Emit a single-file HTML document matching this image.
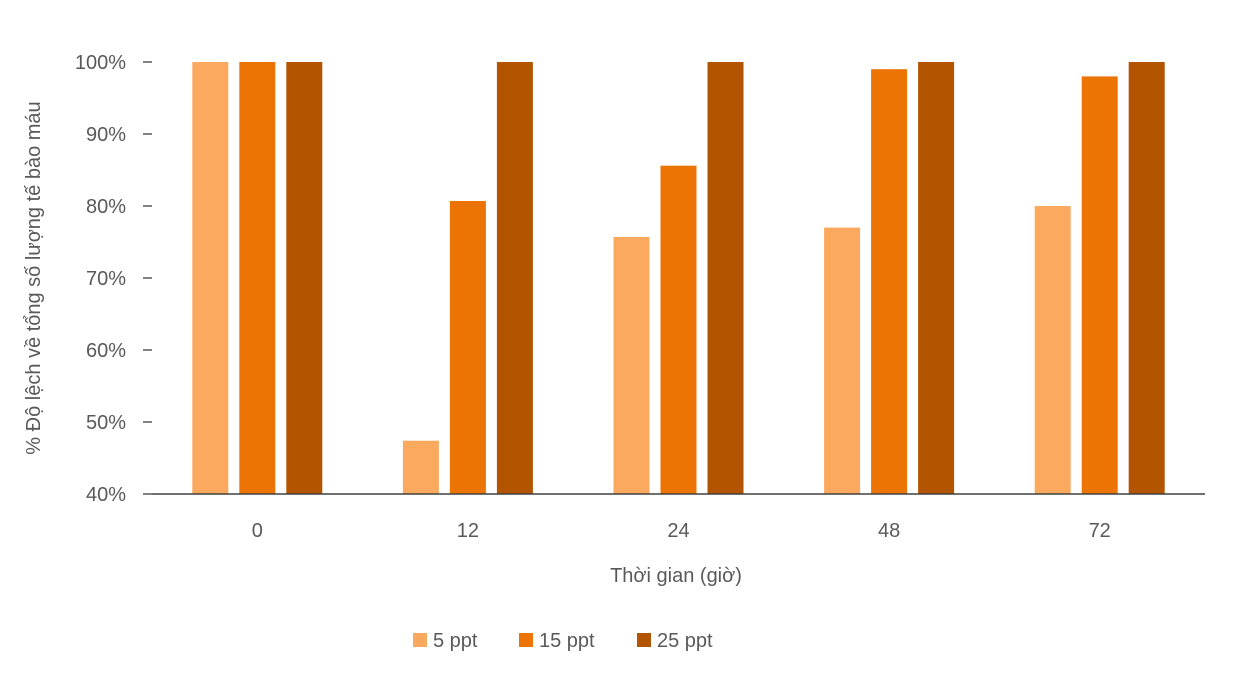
<!DOCTYPE html>
<html><head><meta charset="utf-8"><style>
body{margin:0;background:#fff;font-family:"Liberation Sans",sans-serif;}
</style></head><body>
<svg width="1233" height="672" xmlns="http://www.w3.org/2000/svg" id="chart">
</svg>
<script>
const categories=["0","12","24","48","72"];
const seriesNames=["5 ppt","15 ppt","25 ppt"];
const s5=[100,47.4,75.7,77,80];
const s15=[100,80.7,85.6,99,98];
const s25=[100,100,100,100,100];
const yTicks=[40,50,60,70,80,90,100];
const colors=["#FBA95F","#EC7404","#B35500"];
const svg=document.getElementById('chart');
const NS="http://www.w3.org/2000/svg";
const x0=152,x1=1205,yTop=62,yBot=494,yMin=40,yMax=100;
const y=v=>yBot-(v-yMin)/(yMax-yMin)*(yBot-yTop);
const band=(x1-x0)/categories.length;
const cx=i=>x0+band*(i+0.5);
function mk(tag,attrs,txt){const e=document.createElementNS(NS,tag);for(const k in attrs)e.setAttribute(k,attrs[k]);if(txt!=null)e.textContent=txt;svg.appendChild(e);return e;}
yTicks.forEach(t=>{
 const l=mk('line',{x1:143,x2:152,y1:y(t),y2:y(t),stroke:'#595959','stroke-width':1.5});
 
 
 const tx=mk('text',{x:126,y:y(t)+7,'text-anchor':'end','font-size':20,fill:'#595959'},t+'%');
 
 
});
const series=[s5,s15,s25];
const bw=36,gap=11;
series.forEach((s,si)=>{
 s.forEach((v,i)=>{
  const bx=cx(i)+(si-1)*(bw+gap)-bw/2;
  const r=mk('rect',{x:bx,y:y(v),width:bw,height:yBot-y(v),fill:colors[si]});
  
  
 });
});
const ax=mk('line',{x1:x0,x2:x1,y1:yBot,y2:yBot,stroke:'#404040','stroke-width':1.5});


categories.forEach((c,i)=>{
 const t=mk('text',{x:cx(i),y:537,'text-anchor':'middle','font-size':20,fill:'#595959'},c);
 
 
});
const xt=mk('text',{x:676,y:582,'text-anchor':'middle','font-size':20,fill:'#595959'},'Thời gian (giờ)');


const yt=mk('text',{x:0,y:0,'text-anchor':'middle','font-size':20,fill:'#595959',transform:'translate(40,278) rotate(-90)'},'% Độ lệch về tổng số lượng tế bào máu');


const lx=[413,519,637];
seriesNames.forEach((n,i)=>{
 const r=mk('rect',{x:lx[i],y:633,width:14,height:14,fill:colors[i]});
 
 
 const t=mk('text',{x:lx[i]+20,y:647,'font-size':20,fill:'#595959'},n);
 
 
});
</script>
</body></html>
